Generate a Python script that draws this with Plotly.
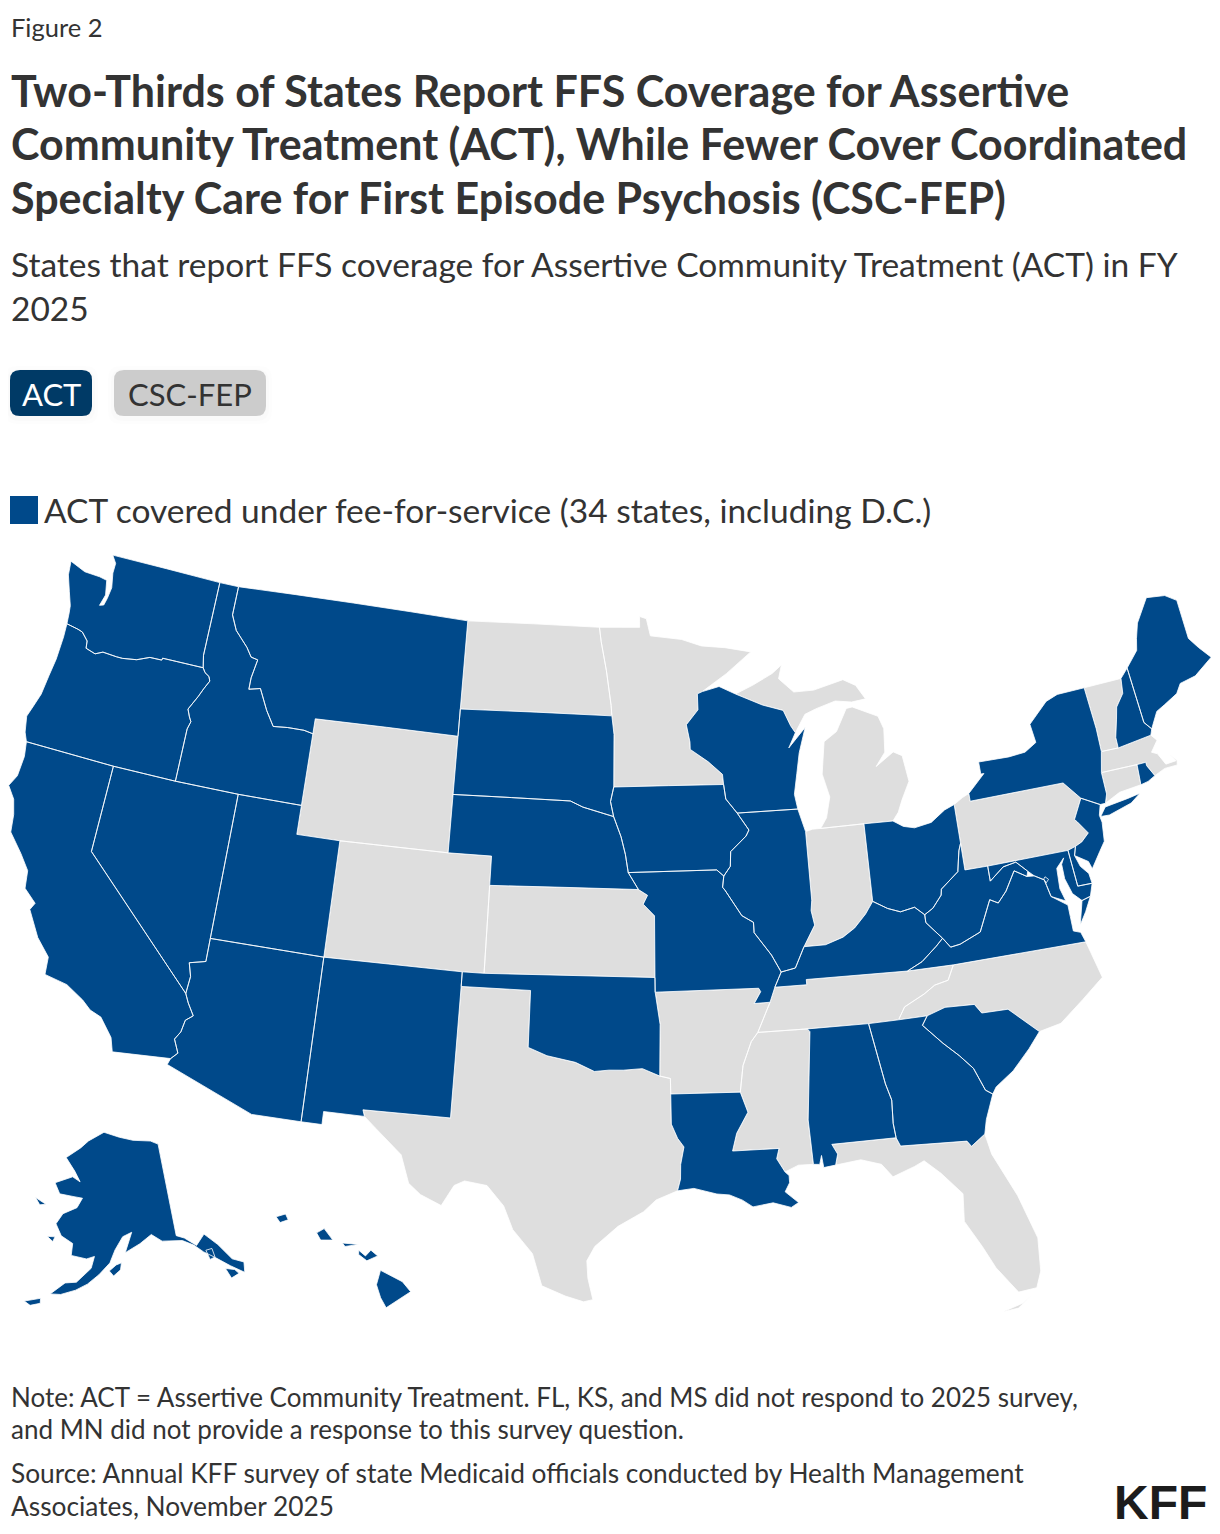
import plotly.graph_objects as go

# states with ACT covered under FFS, all others have no reported coverage
act_states = ['WA', 'OR', 'CA', 'NV', 'ID', 'MT', 'UT', 'AZ', 'NM', 'SD', 'NE', 'OK', 'LA', 'AL', 'GA', 'SC', 'IA',
              'MO', 'IL', 'WI', 'OH', 'KY', 'WV', 'VA', 'MD', 'DE', 'NJ', 'NY', 'NH', 'ME', 'RI', 'DC']
act_alaska = ['AK']
act_hawaii = ['HI']
other_states = ['ND', 'MN', 'WY', 'CO', 'KS', 'TX', 'AR', 'MS', 'TN', 'NC', 'FL', 'IN', 'MI', 'PA', 'VT', 'MA', 'CT']

title_lines = ['Two-Thirds of States Report FFS Coverage for Assertive',
               'Community Treatment (ACT), While Fewer Cover Coordinated',
               'Specialty Care for First Episode Psychosis (CSC-FEP)']
subtitle_lines = ['States that report FFS coverage for Assertive Community Treatment (ACT) in FY', '2025']
legend_label = 'ACT covered under fee-for-service (34 states, including D.C.)'
note_lines = ['Note: ACT = Assertive Community Treatment. FL, KS, and MS did not respond to 2025 survey,',
              'and MN did not provide a response to this survey question.']
source_lines = ['Source: Annual KFF survey of state Medicaid officials conducted by Health Management',
                'Associates, November 2025']

# state outlines, lon/lat, read by hand (no boundary file is reachable offline)
outlines = {
    'WA': [[(-122.76, 49), (-117.04, 49), (-117.04, 46.42), (-116.92, 46), (-118.98, 46), (-119, 45.93), (-119.6, 45.92),
            (-120.2, 45.73), (-120.9, 45.65), (-121.2, 45.65), (-121.9, 45.68), (-122.25, 45.55), (-122.75, 45.65),
            (-122.8, 45.9), (-123.15, 46.15), (-123.4, 46.2), (-124, 46.27), (-124.05, 46.65), (-124.1, 46.9),
            (-124.35, 47.35), (-124.65, 47.9), (-124.73, 48.38), (-123.9, 48.17), (-123.1, 48.15), (-122.7, 48.1),
            (-122.55, 47.6), (-122.7, 47.2), (-122.5, 47.25), (-122.42, 47.5), (-122.35, 47.9), (-122.5, 48.4),
            (-122.5, 48.75)]],
    'OR': [[(-124, 46.27), (-123.4, 46.2), (-123.15, 46.15), (-122.8, 45.9), (-122.75, 45.65), (-122.25, 45.55),
            (-121.9, 45.68), (-121.2, 45.65), (-120.9, 45.65), (-120.2, 45.73), (-119.6, 45.92), (-119, 45.93),
            (-118.98, 46), (-116.92, 46), (-116.78, 45.85), (-116.55, 45.75), (-116.46, 45.6), (-116.67, 45.3),
            (-116.85, 45), (-117.2, 44.5), (-117.05, 44.25), (-116.93, 44.1), (-117.03, 43.83), (-117.03, 42),
            (-120, 42), (-124.21, 42), (-124.4, 42.3), (-124.55, 42.84), (-124.4, 43.2), (-124.2, 43.7),
            (-124.1, 44.4), (-124, 45), (-123.97, 45.8)]],
    'CA': [[(-124.21, 42), (-120, 42), (-120, 39), (-114.63, 35), (-114.45, 34.7), (-114.14, 34.3), (-114.43, 34.1),
            (-114.52, 33.68), (-114.72, 33.4), (-114.47, 32.95), (-114.72, 32.72), (-117.12, 32.53), (-117.3, 33),
            (-117.9, 33.6), (-118.4, 33.75), (-118.8, 34.02), (-119.6, 34.4), (-120.6, 34.55), (-120.65, 35.15),
            (-121.3, 35.7), (-121.95, 36.55), (-121.8, 36.8), (-121.95, 36.9), (-122.4, 37.2), (-122.5, 37.8),
            (-123, 38.3), (-123.7, 38.9), (-123.8, 39.5), (-124, 40), (-124.4, 40.4), (-124.15, 40.8), (-124.1, 41.5)]],
    'NV': [[(-120, 42), (-117.03, 42), (-114.04, 42), (-114.05, 37), (-114.05, 36.2), (-114.74, 36.05), (-114.57, 35.6),
            (-114.63, 35), (-120, 39)]],
    'ID': [[(-117.04, 49), (-116.05, 49), (-116.05, 48), (-115.7, 47.5), (-115, 47), (-114.7, 46.7), (-114.35, 46.65),
            (-114.5, 46), (-114.5, 45.6), (-113.95, 45.7), (-113.45, 45), (-113, 44.5), (-112.3, 44.55), (-111.5, 44.55),
            (-111.05, 44.48), (-111.05, 42), (-114.04, 42), (-117.03, 42), (-117.03, 43.83), (-116.93, 44.1),
            (-117.05, 44.25), (-117.2, 44.5), (-116.85, 45), (-116.67, 45.3), (-116.46, 45.6), (-116.55, 45.75),
            (-116.78, 45.85), (-116.92, 46), (-117.04, 46.42)]],
    'MT': [[(-116.05, 49), (-104.05, 49), (-104.05, 45.94), (-104.05, 45), (-111.05, 45), (-111.05, 44.48), (-111.5, 44.55),
            (-112.3, 44.55), (-113, 44.5), (-113.45, 45), (-113.95, 45.7), (-114.5, 45.6), (-114.5, 46), (-114.35, 46.65),
            (-114.7, 46.7), (-115, 47), (-115.7, 47.5), (-116.05, 48)]],
    'WY': [[(-111.05, 45), (-104.05, 45), (-104.05, 43), (-104.05, 41), (-109.05, 41), (-111.05, 41), (-111.05, 42),
            (-111.05, 44.48)]],
    'UT': [[(-114.04, 42), (-111.05, 42), (-111.05, 41), (-109.05, 41), (-109.05, 37), (-114.05, 37)]],
    'CO': [[(-109.05, 41), (-104.05, 41), (-102.05, 41), (-102.05, 40), (-102.05, 37), (-103, 37), (-109.05, 37)]],
    'AZ': [[(-114.05, 37), (-109.05, 37), (-109.05, 31.33), (-111.07, 31.33), (-114.81, 32.5), (-114.72, 32.72),
            (-114.47, 32.95), (-114.72, 33.4), (-114.52, 33.68), (-114.43, 34.1), (-114.14, 34.3), (-114.45, 34.7),
            (-114.63, 35), (-114.57, 35.6), (-114.74, 36.05), (-114.05, 36.2)]],
    'NM': [[(-109.05, 37), (-103, 37), (-103, 36.5), (-103.04, 32), (-106.62, 32), (-106.53, 31.78), (-108.2, 31.78),
            (-108.2, 31.33), (-109.05, 31.33)]],
    'ND': [[(-104.05, 49), (-97.23, 49), (-97.13, 48.5), (-96.85, 47.5), (-96.6, 46.3), (-96.56, 45.94), (-104.05, 45.94)]],
    'SD': [[(-104.05, 45.94), (-96.56, 45.94), (-96.45, 45.3), (-96.45, 43.5), (-96.6, 43), (-96.45, 42.49), (-97.9, 42.8),
            (-98.5, 43), (-104.05, 43), (-104.05, 45)]],
    'NE': [[(-104.05, 43), (-98.5, 43), (-97.9, 42.8), (-96.45, 42.49), (-96.1, 41.8), (-95.9, 41.2), (-95.77, 40.58),
            (-95.31, 40), (-102.05, 40), (-102.05, 41), (-104.05, 41)]],
    'KS': [[(-102.05, 40), (-95.31, 40), (-94.9, 39.8), (-95.1, 39.5), (-94.6, 39.1), (-94.62, 37), (-102.05, 37)]],
    'OK': [[(-103, 37), (-102.05, 37), (-94.62, 37), (-94.62, 36.5), (-94.43, 35.4), (-94.48, 33.64), (-95.2, 33.9), (-96, 33.85),
            (-96.6, 33.85), (-97.2, 33.8), (-98, 34.1), (-99.2, 34.3), (-100, 34.56), (-100, 36.5), (-103, 36.5)]],
    'TX': [[(-103, 36.5), (-100, 36.5), (-100, 34.56), (-99.2, 34.3), (-98, 34.1), (-97.2, 33.8), (-96.6, 33.85),
            (-96, 33.85), (-95.2, 33.9), (-94.48, 33.64), (-94.04, 33.55), (-94.04, 33.02), (-94.04, 31.99),
            (-93.8, 31.5), (-93.55, 31.2), (-93.7, 30.6), (-93.72, 30.1), (-93.85, 29.7), (-94.7, 29.4), (-95.2, 29),
            (-96.2, 28.5), (-97.1, 27.8), (-97.4, 27.3), (-97.35, 26.7), (-97.15, 25.96), (-97.5, 25.88), (-98.2, 26.07),
            (-99.1, 26.4), (-99.5, 27.5), (-100.3, 28.3), (-100.7, 29.1), (-101.4, 29.77), (-102.3, 29.88),
            (-102.7, 29.7), (-103.15, 28.98), (-104, 29.3), (-104.5, 29.65), (-104.9, 30.6), (-106, 31.4),
            (-106.53, 31.78), (-106.62, 32), (-103.04, 32)]],
    'MN': [[(-97.23, 49), (-95.15, 49), (-95.15, 49.38), (-94.8, 49.3), (-94.6, 48.7), (-93, 48.55), (-92, 48.3),
            (-90.8, 48.2), (-89.5, 48), (-90.8, 47.3), (-92.05, 46.72), (-92.3, 46.65), (-92.3, 46.1), (-92.9, 45.6),
            (-92.75, 45), (-92.75, 44.75), (-91.9, 44.3), (-91.25, 43.85), (-91.22, 43.5), (-96.45, 43.5), (-96.45, 45.3),
            (-96.56, 45.94), (-96.6, 46.3), (-96.85, 47.5), (-97.13, 48.5)]],
    'IA': [[(-96.45, 43.5), (-91.22, 43.5), (-91.15, 43), (-90.65, 42.5), (-90.15, 41.9), (-90.3, 41.7), (-91.05, 41.2),
            (-91.1, 40.7), (-91.42, 40.38), (-91.73, 40.6), (-95.77, 40.58), (-95.9, 41.2), (-96.1, 41.8), (-96.45, 42.49),
            (-96.6, 43)]],
    'MO': [[(-95.77, 40.58), (-91.73, 40.6), (-91.42, 40.38), (-91.5, 40), (-91.4, 39.9), (-90.7, 39), (-90.2, 38.75),
            (-90.2, 38.4), (-89.5, 37.6), (-89.13, 37), (-89.45, 36.5), (-89.7, 36), (-90.38, 35.99), (-90.07, 36.38),
            (-90.15, 36.5), (-94.62, 36.5), (-94.62, 37), (-94.6, 39.1), (-95.1, 39.5), (-94.9, 39.8), (-95.31, 40)]],
    'AR': [[(-94.62, 36.5), (-90.15, 36.5), (-90.07, 36.38), (-90.38, 35.99), (-89.7, 36), (-90.3, 35), (-90.6, 34.7),
            (-91, 33.9), (-91.17, 33), (-94.04, 33.02), (-94.04, 33.55), (-94.48, 33.64), (-94.43, 35.4)]],
    'LA': [[(-94.04, 33.02), (-91.17, 33), (-90.9, 32.3), (-91.4, 31.6), (-91.6, 31), (-89.73, 31), (-89.85, 30.65),
            (-89.55, 30.18), (-89.4, 30.05), (-89.4, 29.8), (-89.6, 29.5), (-89.1, 29.1), (-89.4, 28.95), (-90.1, 29.15),
            (-90.9, 29.05), (-91.3, 29.3), (-91.8, 29.5), (-92.3, 29.55), (-93.2, 29.77), (-93.85, 29.7), (-93.72, 30.1),
            (-93.7, 30.6), (-93.55, 31.2), (-93.8, 31.5), (-94.04, 31.99)]],
    'WI': [[(-92.05, 46.72), (-91.2, 46.87), (-90.4, 46.58), (-89.1, 46.14), (-88.1, 45.9), (-87.8, 45.35), (-87.6, 45.1),
            (-87.98, 44.6), (-87.1, 45.25), (-87.5, 44.4), (-87.7, 43.7), (-87.9, 43), (-87.8, 42.49), (-90.65, 42.5),
            (-91.15, 43), (-91.22, 43.5), (-91.25, 43.85), (-91.9, 44.3), (-92.75, 44.75), (-92.75, 45), (-92.9, 45.6),
            (-92.3, 46.1), (-92.3, 46.65)]],
    'IL': [[(-90.65, 42.5), (-87.8, 42.49), (-87.53, 41.7), (-87.53, 39.35), (-87.6, 39), (-87.5, 38.5), (-88.05, 37.8),
            (-88.5, 37.1), (-89.13, 37), (-89.5, 37.6), (-90.2, 38.4), (-90.2, 38.75), (-90.7, 39), (-91.4, 39.9),
            (-91.5, 40), (-91.42, 40.38), (-91.1, 40.7), (-91.05, 41.2), (-90.3, 41.7), (-90.15, 41.9)]],
    'IN': [[(-87.53, 41.7), (-87.2, 41.76), (-86.82, 41.76), (-84.8, 41.76), (-84.82, 39.1), (-85.2, 38.7), (-85.75, 38.27),
            (-86.3, 38), (-87.1, 37.8), (-88.05, 37.8), (-87.5, 38.5), (-87.6, 39), (-87.53, 39.35)]],
    'OH': [[(-84.8, 41.76), (-83.45, 41.73), (-83, 41.5), (-82.5, 41.4), (-81.7, 41.5), (-81, 41.85), (-80.52, 41.98),
            (-80.52, 40.64), (-80.65, 40.4), (-80.85, 39.7), (-81.7, 39.2), (-81.75, 39), (-82.2, 38.6), (-82.6, 38.42),
            (-83, 38.72), (-83.65, 38.63), (-84.2, 38.8), (-84.82, 39.1)]],
    'MI': [[(-86.82, 41.76), (-86.5, 42.1), (-86.25, 42.8), (-86.5, 43.6), (-86.25, 44.7), (-85.6, 45), (-85, 45.75),
            (-84.7, 45.78), (-83.5, 45.35), (-83.3, 44.9), (-83.4, 44.1), (-83.9, 43.65), (-83, 44.07), (-82.6, 43.9),
            (-82.45, 43), (-82.9, 42.4), (-83.15, 42), (-83.45, 41.73), (-84.8, 41.76)],
           [(-90.4, 46.58), (-89.5, 46.85), (-88.5, 47.2), (-88, 47.47), (-88.2, 47), (-87.5, 46.5), (-86.5, 46.5),
            (-85, 46.75), (-84.4, 46.5), (-84, 46), (-84.7, 45.95), (-85.5, 46.05), (-86.5, 45.85), (-87.05, 45.7),
            (-87.6, 45.1), (-87.8, 45.35), (-88.1, 45.9), (-89.1, 46.14)]],
    'KY': [[(-89.45, 36.5), (-88.07, 36.5), (-88.07, 36.68), (-83.68, 36.6), (-83, 36.85), (-82.3, 37.3), (-81.97, 37.54),
            (-82.6, 38.15), (-82.6, 38.42), (-83, 38.72), (-83.65, 38.63), (-84.2, 38.8), (-84.82, 39.1), (-85.2, 38.7),
            (-85.75, 38.27), (-86.3, 38), (-87.1, 37.8), (-88.05, 37.8), (-88.5, 37.1), (-89.13, 37)]],
    'TN': [[(-90.3, 35), (-89.7, 36), (-89.45, 36.5), (-88.07, 36.5), (-88.07, 36.68), (-83.68, 36.6), (-81.68, 36.59),
            (-82, 36.1), (-82.6, 36), (-83.1, 35.75), (-84, 35.4), (-84.32, 34.99), (-85.6, 34.98), (-88.2, 35)]],
    'MS': [[(-90.3, 35), (-88.2, 35), (-88.1, 34.9), (-88.47, 31.9), (-88.4, 30.37), (-89, 30.38), (-89.55, 30.18),
            (-89.85, 30.65), (-89.73, 31), (-91.6, 31), (-91.4, 31.6), (-90.9, 32.3), (-91.17, 33), (-91, 33.9),
            (-90.6, 34.7)]],
    'AL': [[(-88.2, 35), (-85.6, 34.98), (-85.18, 32.87), (-85, 32.3), (-85.05, 31.5), (-85, 31), (-87.6, 31), (-87.4, 30.65),
            (-87.52, 30.28), (-88, 30.23), (-88.05, 30.65), (-88.15, 30.35), (-88.4, 30.37), (-88.47, 31.9), (-88.1, 34.9)]],
    'GA': [[(-85.6, 34.98), (-84.32, 34.99), (-83.1, 35), (-83.35, 34.7), (-82.6, 34), (-82, 33.5), (-81.5, 33), (-81.15, 32.2),
            (-80.88, 32.03), (-81.3, 31.2), (-81.45, 30.72), (-82.05, 30.37), (-82.2, 30.57), (-84.86, 30.7), (-85, 31),
            (-85.05, 31.5), (-85, 32.3), (-85.18, 32.87)]],
    'FL': [[(-87.6, 31), (-85, 31), (-84.86, 30.7), (-82.2, 30.57), (-82.05, 30.37), (-81.45, 30.72), (-81.3, 30),
            (-80.55, 28.45), (-80.05, 26.9), (-80.15, 25.75), (-80.4, 25.2), (-81.1, 25.15), (-81.8, 26.1), (-82.2, 26.9),
            (-82.75, 27.85), (-82.65, 28.8), (-83.4, 29.6), (-84, 30.1), (-84.4, 29.95), (-85.3, 29.68), (-85.7, 30.15),
            (-86.5, 30.38), (-87.52, 30.28), (-87.4, 30.65)],
           [(-81.8, 24.55), (-81.2, 24.6), (-80.5, 25.05), (-81, 24.75)]],
    'SC': [[(-83.1, 35), (-82.3, 35.2), (-81.05, 35.15), (-80.8, 34.82), (-79.68, 34.8), (-78.55, 33.86), (-79.1, 33.35),
            (-79.9, 32.7), (-80.7, 32.25), (-80.88, 32.03), (-81.15, 32.2), (-81.5, 33), (-82, 33.5), (-82.6, 34),
            (-83.35, 34.7)]],
    'NC': [[(-84.32, 34.99), (-84, 35.4), (-83.1, 35.75), (-82.6, 36), (-82, 36.1), (-81.68, 36.59), (-75.87, 36.55),
            (-75.5, 35.25), (-76.5, 34.65), (-77.6, 34), (-78.55, 33.86), (-79.68, 34.8), (-80.8, 34.82), (-81.05, 35.15),
            (-82.3, 35.2), (-83.1, 35)]],
    'VA': [[(-83.68, 36.6), (-81.68, 36.59), (-75.87, 36.55), (-76, 36.9), (-76.3, 37), (-76.3, 37.5), (-76.3, 37.9),
            (-76.95, 38.3), (-77.05, 38.7), (-77.1, 38.9), (-77.5, 39.1), (-77.83, 39.13), (-78.35, 39.4), (-78.87, 38.77),
            (-79.3, 38.42), (-79.65, 38.58), (-80.3, 37.55), (-81.25, 37.25), (-81.68, 37.2), (-81.97, 37.54), (-82.3, 37.3),
            (-83, 36.85)],
           [(-75.25, 38.03), (-75.65, 37.95), (-75.95, 37.15), (-75.6, 37.55)]],
    'WV': [[(-80.52, 40.64), (-80.52, 39.72), (-79.48, 39.72), (-79.48, 39.2), (-78.8, 39.6), (-78.2, 39.68), (-77.75, 39.3),
            (-77.83, 39.13), (-78.35, 39.4), (-78.87, 38.77), (-79.3, 38.42), (-79.65, 38.58), (-80.3, 37.55), (-81.25, 37.25),
            (-81.68, 37.2), (-81.97, 37.54), (-82.6, 38.15), (-82.6, 38.42), (-82.2, 38.6), (-81.75, 39), (-81.7, 39.2),
            (-80.85, 39.7), (-80.65, 40.4)]],
    'MD': [[(-79.48, 39.72), (-75.79, 39.72), (-75.7, 38.46), (-75.05, 38.45), (-75.25, 38.03), (-75.65, 37.95), (-76, 38.25),
            (-76.2, 38.8), (-76.2, 39.3), (-76.05, 39.5), (-76.45, 39.2), (-76.5, 38.5), (-76.35, 38.05), (-76.95, 38.3),
            (-77.05, 38.7), (-77.1, 38.9), (-77.5, 39.1), (-77.75, 39.3), (-78.2, 39.68), (-78.8, 39.6), (-79.48, 39.2)]],
    'DC': [[(-77.12, 38.93), (-77.04, 39), (-76.91, 38.89), (-77.04, 38.79)]],
    'DE': [[(-75.79, 39.72), (-75.42, 39.8), (-75.55, 39.5), (-75.4, 39.1), (-75.1, 38.8), (-75.05, 38.45), (-75.7, 38.46)]],
    'PA': [[(-80.52, 41.98), (-80.08, 42.17), (-79.76, 42.27), (-79.76, 42), (-75.35, 42), (-74.7, 41.36), (-75.2, 40.7),
            (-75.1, 40.6), (-74.72, 40.15), (-75.1, 39.9), (-75.42, 39.8), (-75.79, 39.72), (-79.48, 39.72), (-80.52, 39.72),
            (-80.52, 40.64)]],
    'NJ': [[(-74.7, 41.36), (-73.9, 41), (-74.05, 40.65), (-74, 40.4), (-74.1, 39.75), (-74.4, 39.45), (-74.9, 38.93),
            (-75, 39.2), (-75.55, 39.5), (-75.42, 39.8), (-75.1, 39.9), (-74.72, 40.15), (-75.1, 40.6), (-75.2, 40.7)]],
    'NY': [[(-79.76, 42.27), (-79.76, 42), (-75.35, 42), (-74.7, 41.36), (-73.9, 41), (-73.65, 41), (-73.5, 41.3),
            (-73.5, 42.05), (-73.27, 42.75), (-73.25, 43.55), (-73.35, 45.01), (-74.7, 45), (-75.3, 44.85), (-76.3, 44.2),
            (-76.2, 43.55), (-76.8, 43.3), (-77.6, 43.25), (-79.05, 43.27), (-79.05, 42.85), (-78.9, 42.85)],
           [(-74, 40.6), (-73.7, 40.88), (-72.6, 40.98), (-72, 41.05), (-72.5, 40.8), (-73.6, 40.58)]],
    'CT': [[(-73.5, 42.05), (-71.8, 42.02), (-71.86, 41.32), (-72.9, 41.25), (-73.65, 41), (-73.5, 41.3)]],
    'RI': [[(-71.8, 42.02), (-71.38, 42.02), (-71.38, 41.9), (-71.13, 41.5), (-71.5, 41.37), (-71.86, 41.32)]],
    'MA': [[(-73.5, 42.05), (-71.8, 42.02), (-71.38, 42.02), (-71.38, 41.9), (-71.13, 41.5), (-70.6, 41.65), (-70, 41.65),
            (-69.95, 41.8), (-70.2, 42.08), (-70, 41.8), (-70.5, 41.78), (-70.75, 42.2), (-71, 42.3), (-70.6, 42.65),
            (-70.82, 42.87), (-72.46, 42.73), (-73.27, 42.75)]],
    'VT': [[(-73.35, 45.01), (-71.5, 45.01), (-71.6, 44.5), (-72.05, 44.1), (-72.2, 43.7), (-72.45, 43.1), (-72.46, 42.73),
            (-73.27, 42.75), (-73.25, 43.55)]],
    'NH': [[(-71.5, 45.01), (-71.08, 45.3), (-70.98, 43.35), (-70.7, 43.07), (-70.82, 42.87), (-72.46, 42.73), (-72.45, 43.1),
            (-72.2, 43.7), (-72.05, 44.1), (-71.6, 44.5)]],
    'ME': [[(-71.08, 45.3), (-70.4, 45.8), (-70.25, 46.2), (-70, 46.7), (-69.22, 47.46), (-68.3, 47.35), (-67.79, 47.07),
            (-67.79, 45.7), (-67.45, 45.3), (-67, 44.85), (-68, 44.4), (-68.8, 44.3), (-69.1, 44), (-69.8, 43.75),
            (-70.25, 43.6), (-70.7, 43.07), (-70.98, 43.35)]],
    'AK': [[(-141, 69.65), (-141, 60.3), (-139.5, 59.9), (-137.5, 58.9), (-135.5, 59.8), (-133.5, 58.4), (-131.8, 56.6),
            (-130, 55.9), (-130.5, 54.9), (-132.5, 56), (-134.8, 57.3), (-136.5, 58.1), (-138, 59), (-140, 59.7),
            (-144, 60), (-146, 60.8), (-148.5, 60), (-151.5, 59.2), (-150, 61.2), (-151.9, 60.8), (-153.5, 59.5),
            (-154.5, 58.2), (-156.5, 57), (-158.5, 56), (-160.5, 55.3), (-163, 54.7), (-164.8, 54.6), (-162.5, 55.9),
            (-160.5, 56.1), (-158, 57.6), (-157.5, 58.8), (-159, 58.5), (-162, 58.7), (-162, 59.9), (-164.5, 60.5),
            (-166, 61.6), (-164.9, 62.7), (-162, 63.5), (-161, 64.5), (-163, 64.55), (-166.4, 64.6), (-168, 65.6),
            (-164, 66.5), (-162, 66.1), (-163.7, 67.1), (-166.5, 68.3), (-163, 69.5), (-161, 70.3), (-156.6, 71.3),
            (-152, 70.8), (-148, 70.4), (-143, 70.1)],
           [(-154.6, 57.4), (-153.3, 58), (-152.3, 58.2), (-152.5, 57.5), (-153.8, 56.9)],
           [(-167.3, 60.2), (-165.7, 60.3), (-166, 59.8)],
           [(-171.6, 63.7), (-169, 63.3), (-170.3, 63.1)],
           [(-133.5, 55.9), (-132, 55.5), (-131.5, 55), (-133, 54.8)],
           [(-136, 58.2), (-134.8, 58.2), (-134.7, 57.3), (-135.7, 57.2)],
           [(-168.9, 53.4), (-166.3, 54), (-166.2, 53.5), (-167.8, 53.1)]],
    'HI': [[(-155.9, 20.25), (-155.1, 19.85), (-154.8, 19.5), (-155.7, 18.95), (-155.9, 19.3), (-156.05, 19.75)],
           [(-156.7, 20.95), (-156.45, 20.75), (-156.25, 20.95), (-156, 20.75), (-156.4, 20.58), (-156.7, 20.8)],
           [(-157.3, 21.2), (-156.7, 21.15), (-157.2, 21.08)],
           [(-158.25, 21.55), (-157.97, 21.7), (-157.65, 21.3), (-158.1, 21.3)],
           [(-159.75, 22.1), (-159.4, 22.2), (-159.3, 22), (-159.6, 21.9)]],
}

# the page keeps its 8px body margin, so work in window pixels and take it off here
PAGE_MARGIN = 8
W, H = 1220 - PAGE_MARGIN, 1534 - PAGE_MARGIN


def xp(x):
    return (x - PAGE_MARGIN) / W


def yp(y):
    return 1 - (y - PAGE_MARGIN) / H


def clockwise(ring):
    # d3 geo treats a counter-clockwise ring as the rest of the globe
    area = sum(a[0] * b[1] - b[0] * a[1] for a, b in zip(ring, ring[1:] + ring[:1]))
    return ring if area < 0 else ring[::-1]


def state_trace(states, color, name, geo):
    lons, lats, txt = [], [], []
    for st in states:
        for ring in outlines[st]:
            ring = clockwise(ring)
            ring = ring + ring[:1]
            lons += [p[0] for p in ring] + [None]
            lats += [p[1] for p in ring] + [None]
            txt += [st] * len(ring) + [None]
    return go.Scattergeo(lon=lons, lat=lats, text=txt, mode='lines', fill='toself', fillcolor=color, name=name, geo=geo,
                         line=dict(color='white', width=0.8), hoverinfo='text', showlegend=False)


def geo_panel(lon_range, lat_range, rotation_lon, center, parallels, box, scale=1):
    # albers usa cannot be resized past its own frame, so the lower 48, Alaska and Hawaii get one panel each
    x0, y0, x1, y1 = box
    return dict(projection=dict(type='conic equal area', parallels=parallels, rotation=dict(lon=rotation_lon), scale=scale),
                center=dict(lon=center[0], lat=center[1]), lonaxis=dict(range=lon_range), lataxis=dict(range=lat_range),
                bgcolor='rgba(0,0,0,0)', showland=False, showlakes=False, showcoastlines=False, showcountries=False,
                showsubunits=False, showframe=False, showocean=False, showrivers=False,
                domain=dict(x=[max(xp(x0), 0), min(xp(x1), 1)], y=[yp(y1), yp(y0)]))


def rounded_box(x0, y0, x1, y1, r):
    return (f'M {xp(x0 + r)} {yp(y0)} L {xp(x1 - r)} {yp(y0)} Q {xp(x1)} {yp(y0)} {xp(x1)} {yp(y0 + r)} '
            f'L {xp(x1)} {yp(y1 - r)} Q {xp(x1)} {yp(y1)} {xp(x1 - r)} {yp(y1)} '
            f'L {xp(x0 + r)} {yp(y1)} Q {xp(x0)} {yp(y1)} {xp(x0)} {yp(y1 - r)} '
            f'L {xp(x0)} {yp(y0 + r)} Q {xp(x0)} {yp(y0)} {xp(x0 + r)} {yp(y0)} Z')


def label(text, x, y, size, color='#333333', family='Lato', anchor='left'):
    fig.add_annotation(text=text, x=xp(x), y=yp(y), xref='paper', yref='paper', xanchor=anchor, yanchor='middle',
                       showarrow=False, align='left', font=dict(size=size, color=color, family=family))


fig = go.Figure()
fig.add_trace(state_trace(other_states, '#dedede', 'No coverage reported', 'geo'))
fig.add_trace(state_trace(act_states, '#00498a', 'ACT covered', 'geo'))
fig.add_trace(state_trace(act_alaska, '#00498a', 'ACT covered', 'geo2'))
fig.add_trace(state_trace(act_hawaii, '#00498a', 'ACT covered', 'geo3'))

fig.update_layout(width=W, height=H, margin=dict(l=0, r=0, t=0, b=0), paper_bgcolor='white',
                  font=dict(family='Lato', color='#333333'),
                  geo=geo_panel([-119.49, -73.45], [25.55, 49.7], -96, (-96.535, 38.52), [29.5, 45.5],
                                (8.3, 553.8, 1214, 1312.3), scale=1.003),
                  geo2=geo_panel([-170, -128], [51, 72], -154, (-147.87, 62.15), [55, 65], (10, 1110, 272, 1334)),
                  geo3=geo_panel([-160.2, -154.3], [18.5, 22.5], -157, (-157.22, 20.54), [8, 18],
                                 (263.5, 1204, 425.5, 1320)))

TEXT_X = 8.5
label('Figure 2', TEXT_X, 27, 25.5)
for line, y in zip(title_lines, [91, 144, 197]):
    label(f'<b>{line}</b>', TEXT_X, y, 43)
for line, y in zip(subtitle_lines, [264, 308]):
    label(line, TEXT_X, y, 33.5)

# tab buttons and legend swatch
for x0, x1, fill in [(10, 92, '#003a66'), (114, 266, '#cccccc')]:
    for grow, shade in [(6, 'rgba(0,0,0,0.008)'), (3, 'rgba(0,0,0,0.012)')]:
        fig.add_shape(type='path', path=rounded_box(x0 - grow, 370 - grow + 2, x1 + grow, 416 + grow + 2, 12),
                      xref='paper', yref='paper', fillcolor=shade, line_width=0)
    fig.add_shape(type='path', path=rounded_box(x0, 370, x1, 416, 10), xref='paper', yref='paper',
                  fillcolor=fill, line_width=0)
label('ACT', 51, 394, 31, color='white', anchor='center')
label('CSC-FEP', 190, 394, 31, anchor='center')
fig.add_shape(type='rect', x0=xp(10), x1=xp(38), y0=yp(496), y1=yp(524), xref='paper', yref='paper',
              fillcolor='#00498a', line_width=0)
label(legend_label, 41.5, 509.5, 33.5)

for line, y in zip(note_lines, [1397, 1429]):
    label(line, TEXT_X, y, 26)
for line, y in zip(source_lines, [1473, 1506]):
    label(line, TEXT_X, y, 26.3)
label('<b>KFF</b>', 1209, 1502, 48, color='#1c1c1c', family='Liberation Sans', anchor='right')

fig.write_html("out.html")
